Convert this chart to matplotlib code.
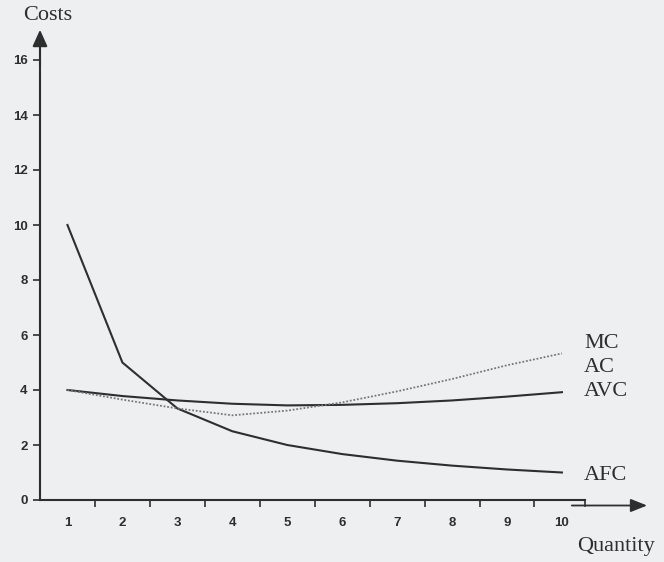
import matplotlib.pyplot as plt
import numpy as np

# quantity and cost curves
quantity = [1, 2, 3, 4, 5, 6, 7, 8, 9, 10]
afc = [10.0, 5.0, 3.33, 2.5, 2.0, 1.67, 1.43, 1.25, 1.11, 1.0]
avc = [4.0, 3.78, 3.62, 3.5, 3.44, 3.46, 3.52, 3.62, 3.76, 3.92]
mc = [4.0, 3.65, 3.33, 3.08, 3.25, 3.55, 3.95, 4.4, 4.9, 5.33]
y_ticks = [0, 2, 4, 6, 8, 10, 12, 14, 16]

bg = '#eeeff0'
ink = '#2e2e2e'

fig = plt.figure(figsize=(6.64, 5.62), dpi=100, facecolor=bg)
ax = fig.add_axes([40 / 664, 62 / 562, 545 / 664, 440 / 562], facecolor=bg)

# curves
ax.plot(quantity, afc, color=ink, linewidth=1.5)
ax.plot(quantity, avc, color=ink, linewidth=1.5)
ax.plot(quantity, mc, color='#777777', linewidth=1.3, linestyle=(0, (1, 1)))

ax.set_xlim(0.5, 10.42)
ax.set_ylim(0, 16)

# axes look
for s in ['top', 'right']:
    ax.spines[s].set_visible(False)
for s in ['left', 'bottom']:
    ax.spines[s].set_color(ink)
    ax.spines[s].set_linewidth(1.5)

ax.set_yticks(y_ticks)
ax.set_yticklabels([str(v) for v in y_ticks], fontfamily='Liberation Sans',
                   fontweight='bold', fontsize=9.5, color=ink)
ax.tick_params(axis='y', length=5, width=1.2, color=ink, pad=4)

# category style x axis: ticks between categories, labels at centres
ax.set_xticks(np.arange(1.5, 10.5, 1.0))
ax.set_xticks(quantity, minor=True)
ax.set_xticklabels([])
ax.set_xticklabels([str(q) for q in quantity], minor=True,
                   fontfamily='Liberation Sans', fontweight='bold', fontsize=9.5, color=ink)
ax.tick_params(axis='x', which='major', length=5, width=1.2, color=ink)
ax.tick_params(axis='x', which='minor', length=0, pad=12)

# axis arrows
ax.annotate('', xy=(0.5, 17.1), xytext=(0.5, 15.8), xycoords='data',
            arrowprops=dict(arrowstyle='-|>,head_length=1.0,head_width=0.45',
                            color=ink, lw=1.5, shrinkA=0, shrinkB=0),
            annotation_clip=False)
ax.plot([10.42, 10.42], [0, -0.2], color=ink, linewidth=1.2, clip_on=False)
ax.annotate('', xy=(11.55, -0.2), xytext=(10.18, -0.2), xycoords='data',
            arrowprops=dict(arrowstyle='-|>,head_length=1.0,head_width=0.4',
                            color=ink, lw=1.3, shrinkA=0, shrinkB=0),
            annotation_clip=False)

# labels
serif = dict(fontfamily='Liberation Serif', fontsize=16, color=ink)
fig.text(23 / 664, 1 - 16 / 562, 'Costs', ha='left', va='center', **serif)
fig.text(577 / 664, 1 - 546 / 562, 'Quantity', ha='left', va='center', **serif)
fig.text(584 / 664, 1 - 344 / 562, 'MC', ha='left', va='center', **serif)
fig.text(584 / 664, 1 - 368 / 562, 'AC', ha='left', va='center', **serif)
fig.text(584 / 664, 1 - 391 / 562, 'AVC', ha='left', va='center', **serif)
fig.text(584 / 664, 1 - 475 / 562, 'AFC', ha='left', va='center', **serif)

fig.savefig('out.png', dpi=100, facecolor=bg)
